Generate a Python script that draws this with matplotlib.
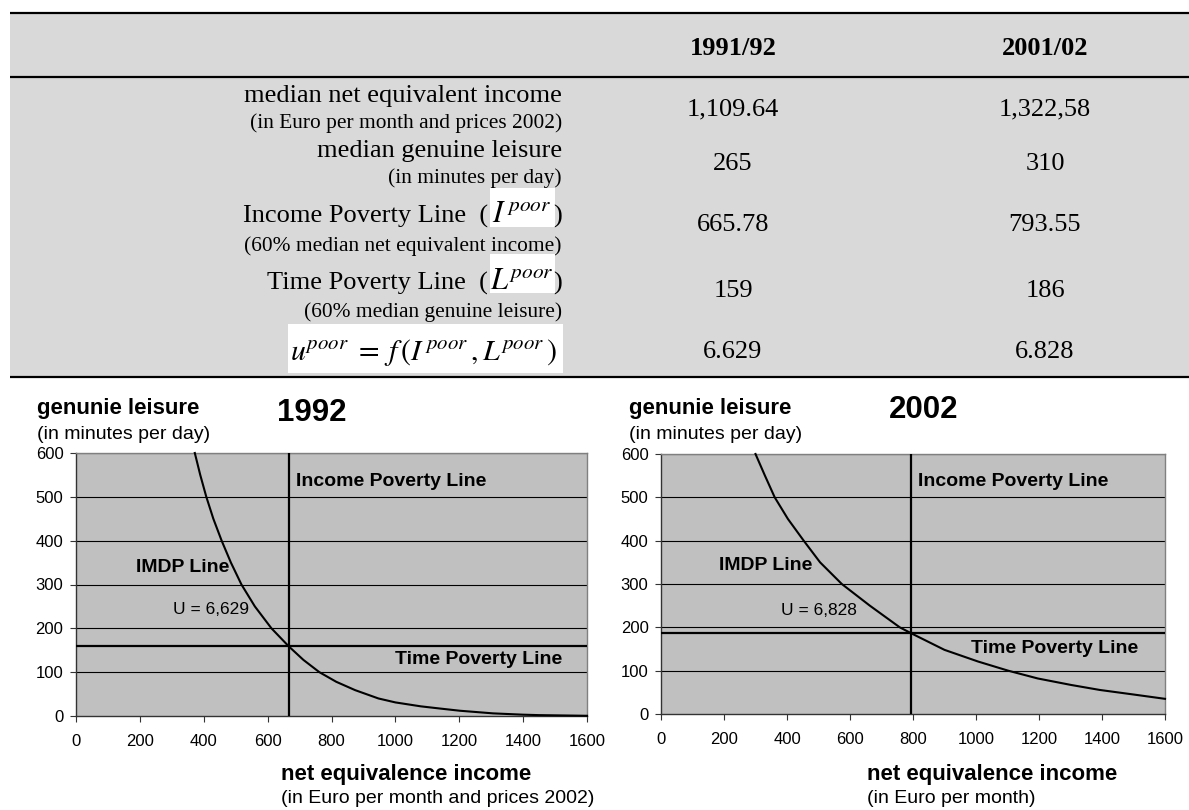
import matplotlib
matplotlib.use("Agg")
import matplotlib.pyplot as plt
from matplotlib.patches import Rectangle

SERIF = "Liberation Serif"
SANS = "Liberation Sans"
TABLE_BG = "#d9d9d9"
PLOT_BG = "#c0c0c0"
INK = "#000000"

plt.rcParams["mathtext.fontset"] = "stix"

# ---------------------------------------------------------------- table data
COLUMNS = ["1991/92", "2001/02"]
ROW_LABELS = ["median net equivalent income", "median genuine leisure",
              "Income Poverty Line  (", "Time Poverty Line  ("]
ROW_SUBLABELS = ["(in Euro per month and prices 2002)", "(in minutes per day)",
                 "(60% median net equivalent income)", "(60% median genuine leisure)"]
ROW_SYMBOLS = [None, None, r"$I^{\,poor}$", r"$L^{poor}$"]
FORMULA = r"$u^{poor}\; =\; f\,(I^{\,poor}\,, L^{poor}\,)$"
VALUES_9192 = ["1,109.64", "265", "665.78", "159", "6.629"]
VALUES_0102 = ["1,322,58", "310", "793.55", "186", "6.828"]

# ---------------------------------------------------------------- chart data
YEARS = ["1992", "2002"]
INCOME_POOR = [665.78, 793.55]
TIME_POOR = [159, 186]
U_LABELS = ["U = 6,629", "U = 6,828"]
X_SUBLABELS = ["(in Euro per month and prices 2002)", "(in Euro per month)"]

# IMDP curves (income, leisure)
IMDP_1992_X = [372, 389, 408, 430, 456, 485, 518, 560, 612, 666, 712, 762,
               815, 874, 947, 1000, 1080, 1140, 1202, 1306, 1400, 1450, 1600]
IMDP_1992_Y = [600, 550, 500, 450, 400, 350, 300, 250, 200, 159, 128, 100,
               78, 59, 40, 31, 22, 17, 12, 6, 3, 2, 0.5]
IMDP_2002_X = [300, 330, 361, 403, 453, 505, 574, 663, 758, 795, 900, 1007,
               1102, 1196, 1302, 1393, 1500, 1600]
IMDP_2002_Y = [600, 550, 500, 450, 400, 350, 300, 250, 200, 186, 148, 121,
               100, 82, 67, 55.5, 45, 35]

W, H = 1189, 810
fig = plt.figure(figsize=(W / 100, H / 100), dpi=100)
fig.patch.set_facecolor("white")

# full-figure pixel canvas for the table and free text
bg = fig.add_axes([0, 0, 1, 1])
bg.set_xlim(0, W); bg.set_ylim(H, 0); bg.axis("off")

bg.add_patch(Rectangle((10, 13), W - 10, 364, color=TABLE_BG, lw=0, zorder=0))
for yy in (13, 77, 377):
    bg.plot([10, W], [yy, yy], color=INK, lw=1.6, solid_capstyle="butt")

COL_X = [733, 1045]
for cx, name in zip(COL_X, COLUMNS):
    bg.text(cx, 55, name, family=SERIF, fontsize=19, fontweight="bold",
            ha="center", va="baseline")

LABEL_BASE = [102, 157, 223, 290]
SUB_BASE = [128, 183, 251, 317]
VALUE_BASE = [115, 170, 231, 297, 358]
RIGHT = 562

for i, (lab, sub, sym) in enumerate(zip(ROW_LABELS, ROW_SUBLABELS, ROW_SYMBOLS)):
    if sym is None:
        bg.text(RIGHT, LABEL_BASE[i], lab, family=SERIF, fontsize=19,
                ha="right", va="baseline")
    else:
        top = [188, 254][i - 2]
        bg.add_patch(Rectangle((490, top), 65, 39, color="white", lw=0, zorder=1))
        bg.text(488, LABEL_BASE[i], lab, family=SERIF, fontsize=19,
                ha="right", va="baseline")
        bg.text(522, LABEL_BASE[i], sym, fontsize=22, ha="center",
                va="baseline", zorder=2)
        bg.text(RIGHT, LABEL_BASE[i], ")", family=SERIF, fontsize=19,
                ha="right", va="baseline")
    bg.text(RIGHT, SUB_BASE[i], sub, family=SERIF, fontsize=15.4,
            ha="right", va="baseline")

bg.add_patch(Rectangle((288, 324), 275, 49, color="white", lw=0, zorder=1))
bg.text(424, 360, FORMULA, fontsize=21.5, ha="center", va="baseline", zorder=2)

for cx, vals in zip(COL_X, (VALUES_9192, VALUES_0102)):
    for yb, v in zip(VALUE_BASE, vals):
        bg.text(cx, yb, v, family=SERIF, fontsize=19, ha="center", va="baseline")


# ---------------------------------------------------------------- charts
def px_rect(x0, x1, y0, y1):
    return [x0 / W, 1 - y1 / H, (x1 - x0) / W, (y1 - y0) / H]


AX_BOX = [px_rect(76, 587, 453, 716), px_rect(661, 1165, 454, 714)]
CURVES = [(IMDP_1992_X, IMDP_1992_Y), (IMDP_2002_X, IMDP_2002_Y)]
# label anchors in data units: income line, IMDP, U, time line
LABEL_POS = [
    [(689, 535), (188, 338), (305, 242), (999, 128)],
    [(817, 537), (185, 343), (381, 239), (984, 152)],
]
HEAD_X = [37, 629]
TITLE_X = [312, 924]
TITLE_BASE = [421, 418]
XLAB_X = [281, 867]

for k in range(2):
    ax = fig.add_axes(AX_BOX[k])
    ax.set_facecolor(PLOT_BG)
    ax.set_xlim(0, 1600); ax.set_ylim(0, 600)
    ax.set_xticks(range(0, 1601, 200)); ax.set_yticks(range(0, 601, 100))
    for y in range(100, 601, 100):
        ax.axhline(y, color=INK, lw=0.8, zorder=1)
    for s in ("top", "right"):
        ax.spines[s].set_color("#808080"); ax.spines[s].set_linewidth(1)
    for s in ("left", "bottom"):
        ax.spines[s].set_color("#333333"); ax.spines[s].set_linewidth(1)
    ax.tick_params(direction="out", length=4, width=0.8, color="#333333",
                   labelsize=12, pad=5)
    for t in ax.get_xticklabels() + ax.get_yticklabels():
        t.set_family(SANS)
    ax.tick_params(axis="x", pad=9)

    ax.axvline(INCOME_POOR[k], color=INK, lw=1.6, zorder=3)
    ax.axhline(TIME_POOR[k], color=INK, lw=1.6, zorder=3)
    cx, cy = CURVES[k]
    ax.plot(cx, cy, color=INK, lw=1.5, zorder=4, clip_on=False,
            solid_joinstyle="round")

    pos = LABEL_POS[k]
    ax.text(*pos[0], "Income Poverty Line", family=SANS, fontsize=14,
            fontweight="bold", ha="left", va="center")
    ax.text(*pos[1], "IMDP Line", family=SANS, fontsize=14,
            fontweight="bold", ha="left", va="center")
    ax.text(*pos[2], U_LABELS[k], family=SANS, fontsize=12.5,
            ha="left", va="center")
    ax.text(*pos[3], "Time Poverty Line", family=SANS, fontsize=14,
            fontweight="bold", ha="left", va="center")

    bg.text(HEAD_X[k], 414, "genunie leisure", family=SANS, fontsize=16,
            fontweight="bold", ha="left", va="baseline")
    bg.text(HEAD_X[k], 439, "(in minutes per day)", family=SANS, fontsize=14,
            ha="left", va="baseline")
    bg.text(TITLE_X[k], TITLE_BASE[k], YEARS[k], family=SANS, fontsize=22.5,
            fontweight="bold", ha="center", va="baseline")
    bg.text(XLAB_X[k], 780, "net equivalence income", family=SANS, fontsize=16,
            fontweight="bold", ha="left", va="baseline")
    bg.text(XLAB_X[k], 803, X_SUBLABELS[k], family=SANS, fontsize=14,
            ha="left", va="baseline")

fig.savefig("out.png", dpi=100, facecolor="white")
